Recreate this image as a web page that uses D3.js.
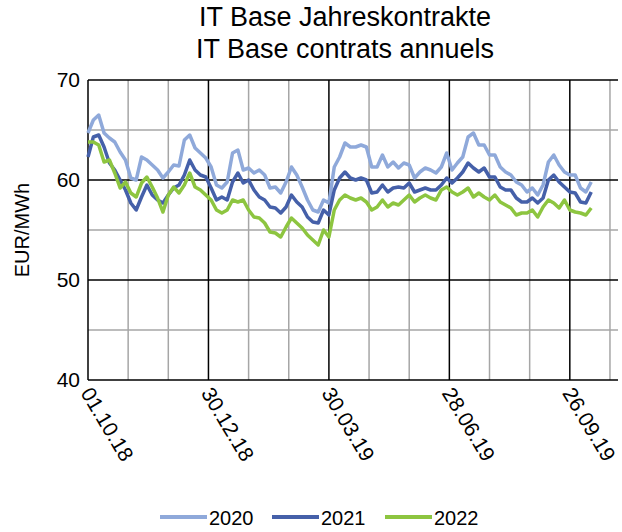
<!DOCTYPE html>
<html>
<head>
<meta charset="utf-8">
<script src="https://cdn.jsdelivr.net/npm/d3@7"></script>
<style>
  body { margin: 0; background: #fff; }
  text { font-family: "Liberation Sans", Arial, sans-serif; fill: #000; }
</style>
</head>
<body>
<div class="chart-holder"></div>
<script>
// price samples, one every 4 calendar days from 01.10.18
let startDate = new Date(2018, 9, 1)
let stepDays = 4

let series2020 = [64.7,66.0,66.5,64.7,64.2,63.8,62.8,62.0,60.2,60.0,62.3,62.0,61.5,61.0,60.2,60.8,
  61.5,61.4,64.0,64.5,63.2,62.7,62.2,61.3,59.5,59.2,59.8,62.7,63.0,61.0,61.2,60.7,61.0,
  60.5,59.2,59.3,58.7,59.8,61.3,60.5,59.3,58.0,57.0,56.8,58.0,57.7,61.3,62.3,63.7,
  63.3,63.3,63.5,63.3,61.3,61.3,62.5,61.3,61.8,61.2,61.7,61.5,60.2,60.8,61.2,61.0,60.7,
  61.3,62.7,61.0,61.7,62.3,64.3,64.7,63.5,63.5,62.5,62.5,61.3,60.8,60.5,59.8,59.5,
  58.8,59.2,58.5,59.5,61.8,62.5,61.5,60.8,60.5,60.5,59.2,58.8,59.8]

let series2021 = [62.3,64.3,64.5,63.3,61.7,61.0,60.0,59.0,57.7,57.0,58.3,59.5,58.5,58.0,57.7,58.5,
  59.2,59.5,60.5,62.0,61.0,60.5,60.3,59.2,58.0,58.3,58.0,59.8,60.7,59.7,60.0,59.0,58.3,
  58.0,57.3,57.2,56.7,57.3,58.5,57.8,57.3,56.3,55.8,55.7,57.0,56.5,59.0,60.2,60.8,
  60.2,60.0,60.2,60.0,58.7,58.8,59.5,58.8,59.2,59.3,59.2,59.7,58.8,59.0,59.2,59.0,59.0,
  59.5,60.2,59.7,60.2,60.8,61.7,61.2,60.8,61.2,60.3,60.3,59.3,59.0,59.0,58.2,57.8,
  57.8,58.2,57.7,58.2,60.0,60.5,59.8,59.3,58.8,58.7,57.8,57.7,58.8]

let series2022 = [63.8,63.8,63.5,61.8,62.0,60.7,59.2,59.8,58.7,58.3,59.7,60.3,59.3,58.2,56.8,58.5,
  59.3,58.7,59.5,60.7,59.3,59.0,58.5,58.0,57.0,56.7,57.0,58.0,57.8,58.0,57.0,56.3,56.2,
  55.7,54.8,54.7,54.3,55.3,56.2,55.7,55.2,54.5,54.0,53.5,55.0,54.3,57.0,58.0,58.5,
  58.2,58.0,58.2,57.8,57.0,57.3,58.0,57.3,57.7,57.5,58.0,58.5,57.8,58.2,58.5,58.2,58.0,
  59.0,59.3,58.8,58.5,58.8,59.2,58.3,58.7,58.3,58.0,58.5,57.8,57.5,57.2,56.5,56.7,
  56.7,57.0,56.3,57.3,58.0,57.7,57.2,58.0,57.0,56.8,56.7,56.5,57.2]

let seriesNames = ['2020', '2021', '2022']
let seriesColors = ['#8FA9DA', '#4560A9', '#8DC540']
let yTicks = [40, 50, 60, 70]
let yMinor = [45, 55, 65]
let xTickLabels = ['01.10.18', '30.12.18', '30.03.19', '28.06.19', '26.09.19']

let svgWidth = 622
let svgHeight = 532
let margin = { top: 80, bottom: 152, left: 88, right: 4 }
let width = svgWidth - margin.left - margin.right
let height = svgHeight - margin.top - margin.bottom

let parseDay = d3.timeParse('%d.%m.%y')
let majorDates = xTickLabels.map(parseDay)
let minorDates = d3.timeDay.range(startDate, d3.timeDay.offset(startDate, 396), 30)

let x = d3.scaleTime()
    .domain([startDate, d3.timeDay.offset(startDate, 396)])
    .range([0, width])
let y = d3.scaleLinear()
    .domain([40, 70])
    .range([height, 0])

let svg = d3.select('.chart-holder')
    .append('svg')
        .attr('width', svgWidth)
        .attr('height', svgHeight)

// titles
svg.append('text')
    .attr('x', 345).attr('y', 26)
    .attr('text-anchor', 'middle')
    .style('font-size', '27px')
    .text('IT Base Jahreskontrakte')
svg.append('text')
    .attr('x', 345).attr('y', 58)
    .attr('text-anchor', 'middle')
    .style('font-size', '27px')
    .text('IT Base contrats annuels')

let plot = svg.append('g')
    .attr('transform', 'translate(' + margin.left + ',' + margin.top + ')')

// minor grid
plot.append('g').selectAll('line')
    .data(minorDates.filter(d => !majorDates.some(m => Math.abs(m - d) < 864e5 * 2)))
    .enter().append('line')
        .attr('x1', d => x(d)).attr('x2', d => x(d))
        .attr('y1', 0).attr('y2', height)
        .attr('stroke', '#A6A6A6').attr('stroke-width', 1.5)
plot.append('g').selectAll('line')
    .data(yMinor)
    .enter().append('line')
        .attr('x1', 0).attr('x2', width)
        .attr('y1', d => y(d)).attr('y2', d => y(d))
        .attr('stroke', '#A6A6A6').attr('stroke-width', 1.5)

// major grid
plot.append('g').selectAll('line')
    .data(majorDates.slice(1))
    .enter().append('line')
        .attr('x1', d => x(d)).attr('x2', d => x(d))
        .attr('y1', 0).attr('y2', height)
        .attr('stroke', '#000').attr('stroke-width', 1.5)
plot.append('g').selectAll('line')
    .data(yTicks)
    .enter().append('line')
        .attr('x1', 0).attr('x2', width)
        .attr('y1', d => y(d)).attr('y2', d => y(d))
        .attr('stroke', '#000').attr('stroke-width', 1.5)
plot.append('line')
    .attr('x1', 0).attr('x2', 0)
    .attr('y1', 0).attr('y2', height)
    .attr('stroke', '#000').attr('stroke-width', 1.5)

// y labels
svg.append('g').selectAll('text')
    .data(yTicks)
    .enter().append('text')
        .attr('x', margin.left - 8)
        .attr('y', d => margin.top + y(d) + 7)
        .attr('text-anchor', 'end')
        .style('font-size', '21px')
        .text(d => d)

svg.append('text')
    .attr('transform', 'translate(29,' + (margin.top + y(55)) + ') rotate(-90)')
    .attr('text-anchor', 'middle')
    .style('font-size', '20px')
    .text('EUR/MWh')

// x labels, rotated
svg.append('g').selectAll('text')
    .data(majorDates)
    .enter().append('text')
        .attr('transform', d => 'translate(' + (margin.left + x(d) - 8) + ',' + (margin.top + height + 13) + ') rotate(59)')
        .style('font-size', '21px')
        .text((d, i) => xTickLabels[i])

// lines
let line = d3.line()
    .x((d, i) => x(d3.timeDay.offset(startDate, i * stepDays)))
    .y(d => y(d))

let allSeries = [series2020, series2021, series2022]
plot.append('g').selectAll('path')
    .data(allSeries)
    .enter().append('path')
        .attr('d', d => line(d))
        .attr('fill', 'none')
        .attr('stroke', (d, i) => seriesColors[i])
        .attr('stroke-width', 3.5)
        .attr('stroke-linejoin', 'round')

// legend
let legendX = [160, 272, 385]
let legend = svg.append('g').selectAll('g')
    .data(seriesNames)
    .enter().append('g')
        .attr('transform', (d, i) => 'translate(' + legendX[i] + ',517)')
legend.append('line')
    .attr('x1', 0).attr('x2', 47)
    .attr('y1', 0).attr('y2', 0)
    .attr('stroke', (d, i) => seriesColors[i])
    .attr('stroke-width', 4)
legend.append('text')
    .attr('x', 49).attr('y', 8)
    .style('font-size', '20px')
    .text(d => d)
</script>
</body>
</html>
